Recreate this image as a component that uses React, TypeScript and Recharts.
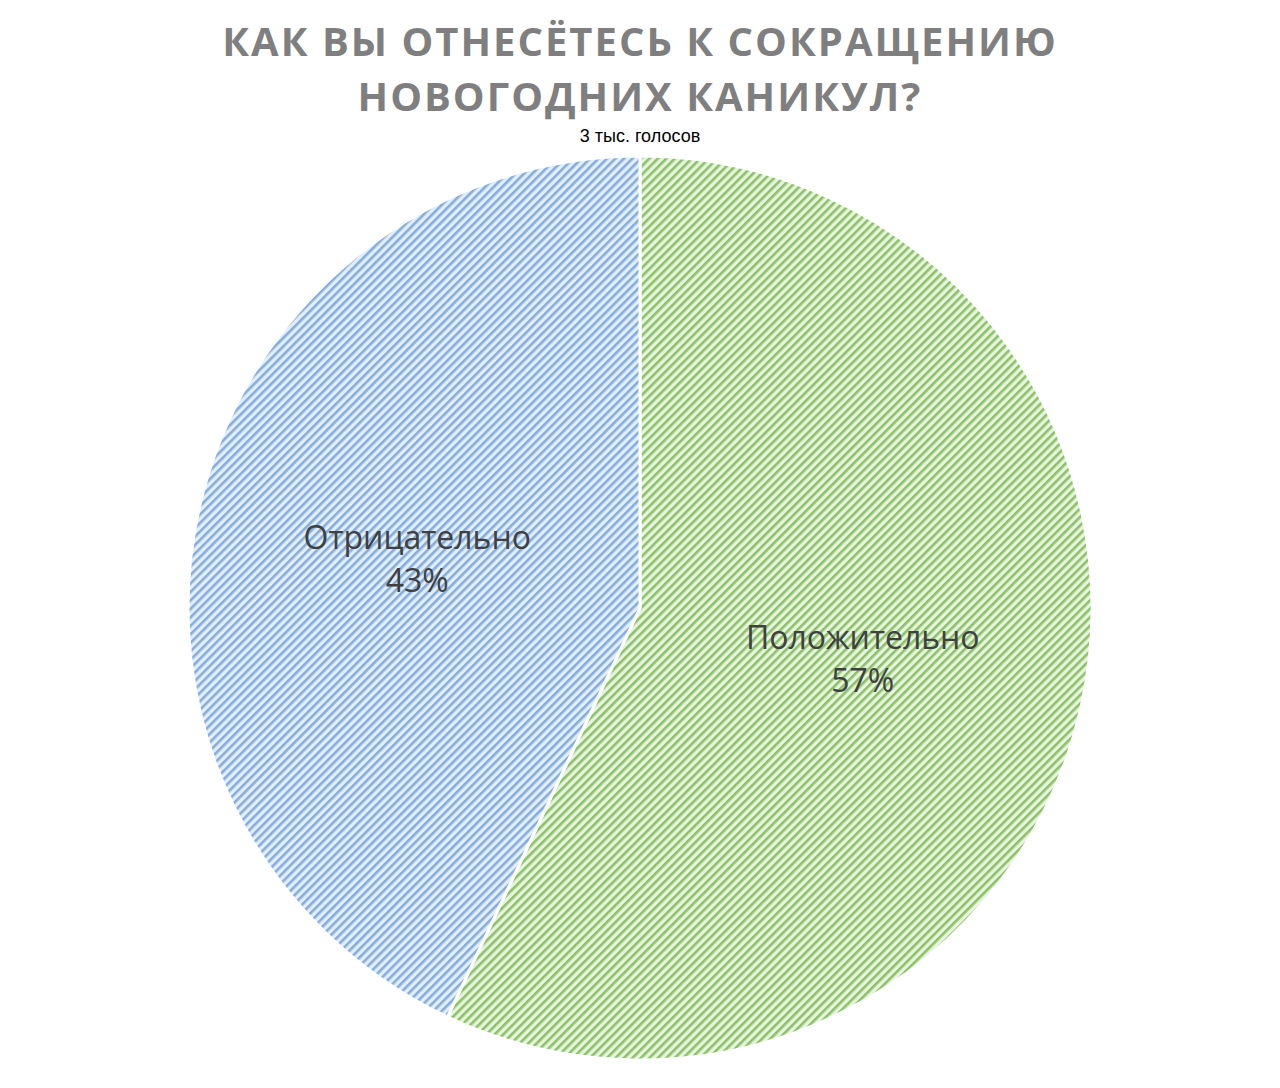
import { PieChart, Pie, Cell } from 'recharts'

const categories = ['Положительно', 'Отрицательно']
const shares = [57, 43]
const fills = ['url(#hatchGreen)', 'url(#hatchBlue)']

const title = ['КАК ВЫ ОТНЕСЁТЕСЬ К СОКРАЩЕНИЮ', 'НОВОГОДНИХ КАНИКУЛ?']
const subtitle = '3 тыс. голосов'

const data = categories.map((name, i) => ({ name, value: shares[i] }))

const RAD = Math.PI / 180

function renderLabel(props: any) {
  const { cx, cy, midAngle, outerRadius, name, value } = props
  const r = outerRadius * 0.505
  const x = cx + r * Math.cos(-midAngle * RAD)
  const y = cy + r * Math.sin(-midAngle * RAD)
  return (
    <text
      x={x}
      y={y}
      textAnchor="middle"
      fill="#404040"
      fontSize={32}
      fontFamily="'Open Sans', sans-serif"
    >
      <tspan x={x} dy={-9}>{name}</tspan>
      <tspan x={x} dy={43}>{value}%</tspan>
    </text>
  )
}

export default function App() {
  return (
    <div style={{ position: 'absolute', left: 0, top: 0, width: 1280, height: 1088, background: '#fff' }}>
      <div
        style={{
          position: 'absolute',
          top: 13,
          left: 0,
          width: 1280,
          textAlign: 'center',
          fontFamily: "'Open Sans', sans-serif",
          fontWeight: 700,
          fontSize: 40,
          letterSpacing: 2,
          lineHeight: '55px',
          color: '#7f7f7f',
        }}
      >
        {title.map((t) => (
          <div key={t}>{t}</div>
        ))}
      </div>
      <div
        style={{
          position: 'absolute',
          top: 126,
          left: 0,
          width: 1280,
          textAlign: 'center',
          fontFamily: "'Liberation Sans', Arial, sans-serif",
          fontSize: 18,
          color: '#000',
        }}
      >
        {subtitle}
      </div>
      <PieChart
        width={1280}
        height={1088}
        margin={{ top: 0, right: 0, bottom: 0, left: 0 }}
        style={{ position: 'absolute', left: 0, top: 0 }}
      >
        <defs>
          <pattern id="hatchGreen" width="6" height="6" patternUnits="userSpaceOnUse" patternTransform="rotate(45)">
            <rect width="6" height="6" fill="#e8f3e0" />
            <rect width="2.6" height="6" fill="#8ac266" />
          </pattern>
          <pattern id="hatchBlue" width="6" height="6" patternUnits="userSpaceOnUse" patternTransform="rotate(45)">
            <rect width="6" height="6" fill="#e2eef9" />
            <rect width="2.6" height="6" fill="#84addd" />
          </pattern>
        </defs>
        <Pie
          data={data}
          dataKey="value"
          nameKey="name"
          cx={640}
          cy={608}
          outerRadius={452}
          startAngle={90}
          endAngle={-270}
          stroke="#ffffff"
          strokeWidth={3}
          label={renderLabel}
          labelLine={false}
          isAnimationActive={false}
        >
          {data.map((d, i) => (
            <Cell key={d.name} fill={fills[i]} />
          ))}
        </Pie>
      </PieChart>
    </div>
  )
}
